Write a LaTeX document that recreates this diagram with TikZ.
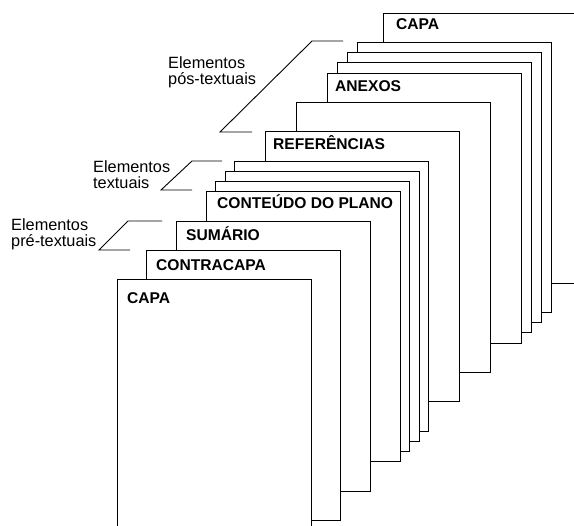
\documentclass[tikz,border=0pt]{standalone}
\usepackage{fontspec}
\setmainfont{Liberation Sans}
\usetikzlibrary{positioning,calc}

\tikzset{
  page/.style={draw, fill=white, line width=1.1pt, anchor=north west, inner sep=0pt,
    minimum width=194pt, minimum height=270pt},
  pagename/.style={anchor=base west, inner sep=0pt, font=\fontsize{15.6}{15.6}\selectfont\bfseries},
  elemname/.style={anchor=base west, inner sep=0pt, align=left, font=\fontsize{16.3}{16.8}\selectfont},
  bracket/.style={line width=0.9pt}
}

\begin{document}
\begin{tikzpicture}[x=1pt,y=-1pt]
  \useasboundingbox (0,0) rectangle (574,526);
  \clip (0,0) rectangle (574,526);
  % pages, from the back one to the front one
  \foreach \px/\py/\pn in {383/13/p14, 357/42/p13, 347/52/p12, 337/62/p11, 327/73/p10,
      296/102/p9, 265/131/p8, 234/161/p7, 225/171/p6, 215/181/p5, 206/191/p4,
      176/221/p3, 146/250/p2, 117/279/p1}
    \node[page] (\pn) at (\px,\py) {};

  \node[pagename] (capa) at ($(p1.north west)+(10,25)$) {CAPA};
  \node[pagename] (contracapa) at ($(p2.north west)+(10,21)$) {CONTRACAPA};
  \node[pagename] (sumario) at ($(p3.north west)+(10,20)$) {SUMÁRIO};
  \node[pagename] (conteudo) at ($(p4.north west)+(11,18)$) {CONTEÚDO DO PLANO};
  \node[pagename] (referencias) at ($(p8.north west)+(8,19)$) {REFERÊNCIAS};
  \node[pagename] (anexos) at ($(p10.north west)+(8,19)$) {ANEXOS};
  \node[pagename] (capafim) at ($(p14.north west)+(13,17)$) {CAPA};

  \coordinate (pre1) at (162,221);
  \coordinate (pre2) at (128,221);
  \coordinate (pre3) at (99,250);
  \coordinate (pre4) at (130,250);
  \draw[bracket] (pre1) -- (pre2) -- (pre3) -- (pre4);
  \node[elemname] (pre) at (11,247) {Elementos\\pré-textuais};

  \coordinate (txt1) at (222,161);
  \coordinate (txt2) at (192,161);
  \coordinate (txt3) at (161,190);
  \coordinate (txt4) at (192,190);
  \draw[bracket] (txt1) -- (txt2) -- (txt3) -- (txt4);
  \node[elemname] (txt) at (93,189) {Elementos\\textuais};

  \coordinate (pos1) at (343,41);
  \coordinate (pos2) at (312,41);
  \coordinate (pos3) at (220,132);
  \coordinate (pos4) at (252,132);
  \draw[bracket] (pos1) -- (pos2) -- (pos3) -- (pos4);
  \node[elemname] (pos) at (168,85) {Elementos\\pós-textuais};
\end{tikzpicture}
\end{document}
